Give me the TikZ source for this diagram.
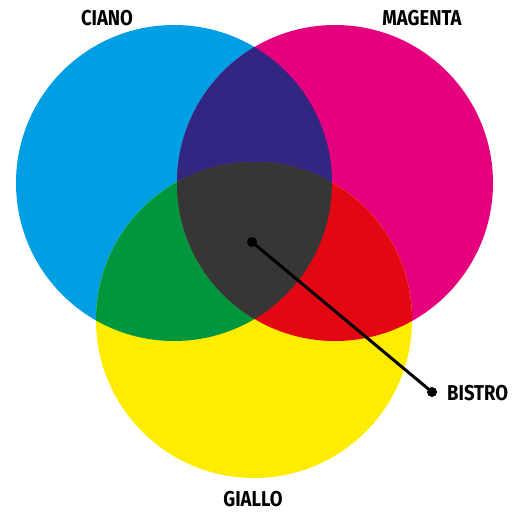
\documentclass[tikz,border=0pt]{standalone}
\usepackage{fontspec}
\newfontfamily\labelfont[FakeStretch=0.86]{Fira Sans}
\definecolor{ciano}{HTML}{009FE3}
\definecolor{magenta}{HTML}{E5007D}
\definecolor{giallo}{HTML}{FFED00}
\definecolor{blu}{HTML}{312783}
\definecolor{verde}{HTML}{009640}
\definecolor{rosso}{HTML}{E30613}
\definecolor{bistro}{HTML}{363636}

\begin{document}
\begin{tikzpicture}[x=1pt, y=-1pt,
        colorlabel/.style = {font=\labelfont\bfseries\fontsize{21.5}{25}\selectfont, inner sep=0pt},
        pin/.style = {line width=3pt, black}
        ]
        \useasboundingbox (0,0) rectangle (511,513);
        \coordinate (c) at (174,183);
        \coordinate (m) at (335,183);
        \coordinate (g) at (254,320);
        \def\r{158}
        % base circles
        \fill[ciano] (c) circle (\r);
        \fill[magenta] (m) circle (\r);
        \fill[giallo] (g) circle (\r);
        % overlaps
        \begin{scope}
                \clip (c) circle (\r);
                \fill[blu] (m) circle (\r);
                \fill[verde] (g) circle (\r);
        \end{scope}
        \begin{scope}
                \clip (m) circle (\r);
                \fill[rosso] (g) circle (\r);
        \end{scope}
        \begin{scope}
                \clip (c) circle (\r);
                \clip (m) circle (\r);
                \fill[bistro] (g) circle (\r);
        \end{scope}
        % labels
        \node[colorlabel] (ciano) at (107,18) {CIANO};
        \node[colorlabel] (magenta) at (422,18) {MAGENTA};
        \node[colorlabel] (giallo) at (253,499) {GIALLO};
        \node[colorlabel, anchor=west] (bistro) at (447,393) {BISTRO};
        \coordinate (centro) at (252,242);
        \coordinate (punta) at (432,392);
        \draw[pin] (centro) -- (punta);
        \fill (centro) circle (5);
        \fill (punta) circle (5);
\end{tikzpicture}
\end{document}
